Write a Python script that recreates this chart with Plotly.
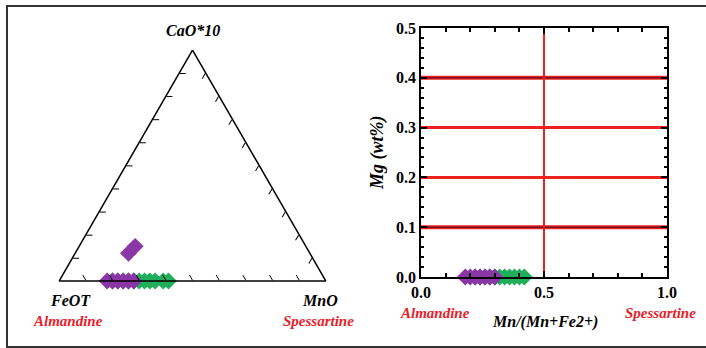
import plotly.graph_objects as go

W, H = 706, 348

# Ternary data (fractions): a = CaO*10, b = FeOT, c = MnO
tern_green_a = [0, 0, 0, 0, 0, 0, 0, 0, 0, 0, 0]
tern_green_c = [0.20, 0.22, 0.24, 0.26, 0.28, 0.30, 0.32, 0.34, 0.36, 0.39, 0.41]
tern_purple_a = [0, 0, 0, 0, 0, 0, 0.12, 0.15]
tern_purple_c = [0.18, 0.20, 0.22, 0.24, 0.26, 0.28, 0.20, 0.21]

# Binary plot data: Mn/(Mn+Fe2+) vs Mg (wt%)
bin_green_x = [0.22, 0.24, 0.26, 0.28, 0.30, 0.32, 0.34, 0.36, 0.38, 0.40, 0.42]
bin_green_y = [0, 0, 0, 0, 0, 0, 0, 0, 0, 0, 0]
bin_purple_x = [0.18, 0.20, 0.22, 0.24, 0.26, 0.28, 0.30]
bin_purple_y = [0, 0, 0, 0, 0, 0, 0]
hlines_dark = [0.1, 0.4]
hlines_red = [0.2, 0.3]
vlines = [0.5]

GREEN = "#1fae5a"
PURPLE = "#8b36a6"
FONT = "Liberation Serif"

fig = go.Figure()

def b_of(a, c):
    return [1 - ai - ci for ai, ci in zip(a, c)]

fig.add_trace(go.Scatterternary(
    a=tern_green_a, b=b_of(tern_green_a, tern_green_c), c=tern_green_c,
    mode="markers", marker=dict(symbol="diamond", size=13, color=GREEN),
    cliponaxis=False, showlegend=False))
fig.add_trace(go.Scatterternary(
    a=tern_purple_a, b=b_of(tern_purple_a, tern_purple_c), c=tern_purple_c,
    mode="markers", marker=dict(symbol="diamond", size=13, color=PURPLE),
    cliponaxis=False, showlegend=False))

for yv in hlines_red:
    fig.add_trace(go.Scatter(x=[0, 1], y=[yv, yv], mode="lines",
                             line=dict(color="#ee2020", width=3), showlegend=False, hoverinfo="skip"))
for yv in hlines_dark:
    fig.add_trace(go.Scatter(x=[0, 1], y=[yv, yv], mode="lines",
                             line=dict(color="#ee2020", width=4), showlegend=False, hoverinfo="skip"))
    fig.add_trace(go.Scatter(x=[0, 1], y=[yv, yv], mode="lines",
                             line=dict(color="#7a1020", width=1.6), showlegend=False, hoverinfo="skip"))
for xv in vlines:
    fig.add_trace(go.Scatter(x=[xv, xv], y=[0, 0.5], mode="lines",
                             line=dict(color="#ee2020", width=2), showlegend=False, hoverinfo="skip"))

fig.add_trace(go.Scatter(x=bin_green_x, y=bin_green_y, mode="markers",
                         marker=dict(symbol="diamond", size=13, color=GREEN),
                         cliponaxis=False, showlegend=False))
fig.add_trace(go.Scatter(x=bin_purple_x, y=bin_purple_y, mode="markers",
                         marker=dict(symbol="diamond", size=13, color=PURPLE),
                         cliponaxis=False, showlegend=False))

tern_axis = dict(showgrid=False, showticklabels=False, ticks="inside", ticklen=6,
                 tickwidth=1.3, dtick=0.1, tickcolor="black", linecolor="black", linewidth=1.5,
                 title=dict(text=""))

def px_x(p):
    return p / W

def px_y(p):
    return 1 - p / H

fig.update_layout(
    width=W, height=H,
    margin=dict(l=0, r=0, t=0, b=0, autoexpand=False),
    paper_bgcolor="white", plot_bgcolor="white",
    font=dict(family=FONT, color="black"),
    ternary=dict(
        sum=1,
        domain=dict(x=[px_x(59), px_x(326)], y=[px_y(281), px_y(50)]),
        bgcolor="white",
        aaxis=tern_axis, baxis=tern_axis, caxis=tern_axis,
    ),
    xaxis=dict(domain=[px_x(421), px_x(667)], range=[0, 1], showgrid=False, zeroline=False,
               tickvals=[0, 0.5, 1.0], ticktext=["0.0", "0.5", "1.0"],
               ticks="inside", ticklen=6, tickwidth=1.5, tickcolor="black",
               minor=dict(dtick=0.1, ticks="inside", ticklen=4, tickcolor="black"),
               showline=True, linecolor="black", linewidth=1.5, mirror="ticks",
               tickfont=dict(family=FONT, size=16, weight="bold", color="black")),
    yaxis=dict(domain=[px_y(277), px_y(28)], range=[0, 0.5], showgrid=False, zeroline=False,
               dtick=0.1, tickformat=".1f",
               ticks="inside", ticklen=6, tickwidth=1.5, tickcolor="black",
               minor=dict(dtick=0.02, ticks="inside", ticklen=3, tickcolor="black"),
               showline=True, linecolor="black", linewidth=1.5, mirror="ticks",
               tickfont=dict(family=FONT, size=16, weight="bold", color="black")),
)

def ann(text, x, y, color="black", size=16, angle=0):
    fig.add_annotation(text=f"<b><i>{text}</i></b>", x=px_x(x), y=px_y(y),
                       xref="paper", yref="paper", showarrow=False, textangle=angle,
                       font=dict(family=FONT, size=size, color=color),
                       xanchor="center", yanchor="middle")

RED = "#e8202a"
ann("CaO*10", 193, 30)
ann("FeOT", 70, 300)
ann("Almandine", 68, 321, RED, 15)
ann("MnO", 320, 300)
ann("Spessartine", 318, 321, RED, 15)
ann("Almandine", 435, 313, RED, 15)
ann("Mn/(Mn+Fe2+)", 545, 322)
ann("Spessartine", 660, 313, RED, 15)
ann("Mg (wt%)", 377, 153, angle=-90, size=18)

fig.add_shape(type="rect", xref="paper", yref="paper",
              x0=px_x(7), x1=px_x(712), y0=px_y(347), y1=px_y(6),
              line=dict(color="#333", width=2))

fig.write_html("out.html", config={"responsive": False, "displayModeBar": False},
               post_script="document.body.style.margin='0';document.body.style.overflow='hidden';")
